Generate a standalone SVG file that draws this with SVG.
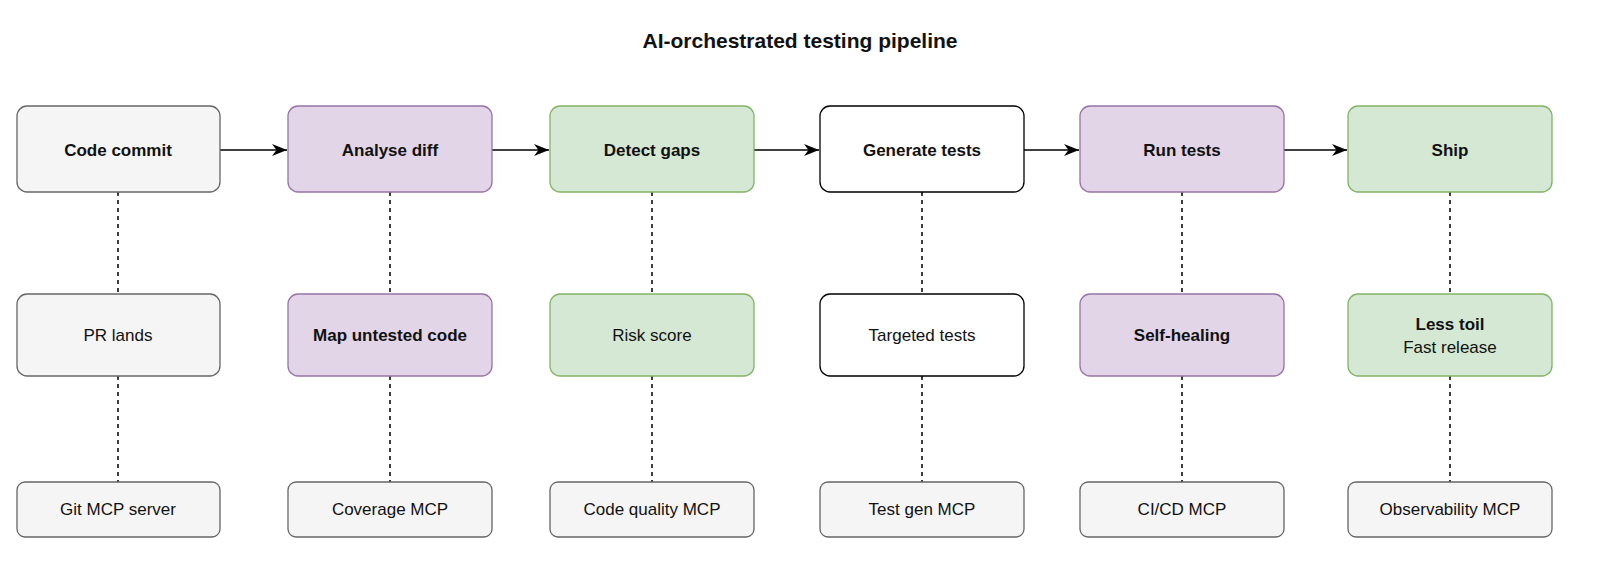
<svg xmlns="http://www.w3.org/2000/svg" width="1600" height="567" viewBox="0 0 1600 567">
<style>
text{font-family:"Liberation Sans",Arial,sans-serif;font-size:17px;fill:#111;text-anchor:middle}
.b{font-weight:bold}
.t{font-size:21px;font-weight:bold}
.g{fill:#f5f5f5;stroke:#666;stroke-width:1.3}
.p{fill:#e1d5e7;stroke:#9673a6;stroke-width:1.3}
.n{fill:#d5e8d4;stroke:#82b366;stroke-width:1.3}
.w{fill:#fff;stroke:#000;stroke-width:1.3}
.a{stroke:#000;stroke-width:1.5;fill:none}
.d{stroke:#000;stroke-width:1.5;stroke-dasharray:4 4;fill:none}
</style>
<defs><marker id="ah" viewBox="0 0 10 10" refX="10" refY="5" markerWidth="15" markerHeight="15" markerUnits="userSpaceOnUse" orient="auto"><path d="M0,1 L10,5 L0,9 L3,5 Z" fill="#000"/></marker></defs>
<rect width="1600" height="567" fill="#fff"/>
<text class="t" x="800" y="48">AI-orchestrated testing pipeline</text>
<g id="connectors">
<path class="a" d="M220,150 H287" marker-end="url(#ah)"/>
<path class="a" d="M492,150 H549" marker-end="url(#ah)"/>
<path class="a" d="M754,150 H819" marker-end="url(#ah)"/>
<path class="a" d="M1024,150 H1079" marker-end="url(#ah)"/>
<path class="a" d="M1284,150 H1347" marker-end="url(#ah)"/>
<path class="d" d="M118,192 V294 M118,376 V482"/>
<path class="d" d="M390,192 V294 M390,376 V482"/>
<path class="d" d="M652,192 V294 M652,376 V482"/>
<path class="d" d="M922,192 V294 M922,376 V482"/>
<path class="d" d="M1182,192 V294 M1182,376 V482"/>
<path class="d" d="M1450,192 V294 M1450,376 V482"/>
</g>
<g id="n1"><rect class="g" x="17" y="106" width="203" height="86" rx="10"/><text class="b" x="118" y="156">Code commit</text></g>
<g id="n2"><rect class="p" x="288" y="106" width="204" height="86" rx="10"/><text class="b" x="390" y="156">Analyse diff</text></g>
<g id="n3"><rect class="n" x="550" y="106" width="204" height="86" rx="10"/><text class="b" x="652" y="156">Detect gaps</text></g>
<g id="n4"><rect class="w" x="820" y="106" width="204" height="86" rx="10"/><text class="b" x="922" y="156">Generate tests</text></g>
<g id="n5"><rect class="p" x="1080" y="106" width="204" height="86" rx="10"/><text class="b" x="1182" y="156">Run tests</text></g>
<g id="n6"><rect class="n" x="1348" y="106" width="204" height="86" rx="10"/><text class="b" x="1450" y="156">Ship</text></g>
<g id="m1"><rect class="g" x="17" y="294" width="203" height="82" rx="10"/><text x="118" y="341">PR lands</text></g>
<g id="m2"><rect class="p" x="288" y="294" width="204" height="82" rx="10"/><text class="b" x="390" y="341">Map untested code</text></g>
<g id="m3"><rect class="n" x="550" y="294" width="204" height="82" rx="10"/><text x="652" y="341">Risk score</text></g>
<g id="m4"><rect class="w" x="820" y="294" width="204" height="82" rx="10"/><text x="922" y="341">Targeted tests</text></g>
<g id="m5"><rect class="p" x="1080" y="294" width="204" height="82" rx="10"/><text class="b" x="1182" y="341">Self-healing</text></g>
<g id="m6"><rect class="n" x="1348" y="294" width="204" height="82" rx="10"/><text class="b" x="1450" y="330">Less toil</text><text x="1450" y="353">Fast release</text></g>
<g id="s1"><rect class="g" x="17" y="482" width="203" height="55" rx="8"/><text x="118" y="515">Git MCP server</text></g>
<g id="s2"><rect class="g" x="288" y="482" width="204" height="55" rx="8"/><text x="390" y="515">Coverage MCP</text></g>
<g id="s3"><rect class="g" x="550" y="482" width="204" height="55" rx="8"/><text x="652" y="515">Code quality MCP</text></g>
<g id="s4"><rect class="g" x="820" y="482" width="204" height="55" rx="8"/><text x="922" y="515">Test gen MCP</text></g>
<g id="s5"><rect class="g" x="1080" y="482" width="204" height="55" rx="8"/><text x="1182" y="515">CI/CD MCP</text></g>
<g id="s6"><rect class="g" x="1348" y="482" width="204" height="55" rx="8"/><text x="1450" y="515">Observability MCP</text></g>
</svg>
